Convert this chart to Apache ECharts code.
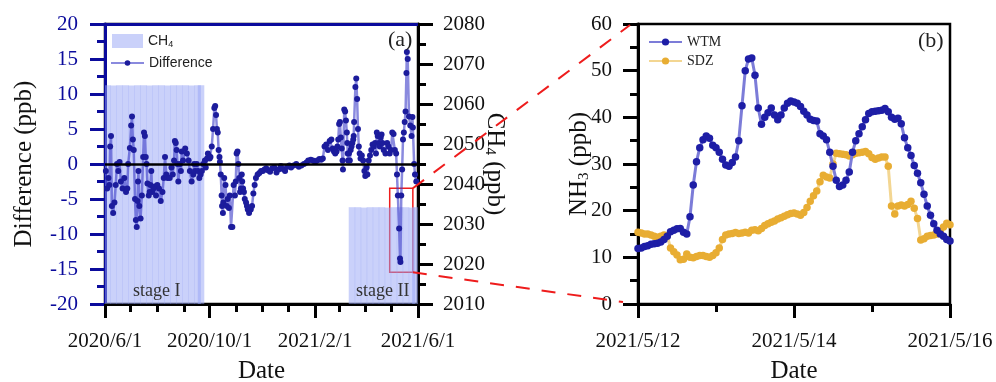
<!DOCTYPE html>
<html><head><meta charset="utf-8">
<script src="https://cdn.jsdelivr.net/npm/echarts@6/dist/echarts.min.js"></script>
<style>html,body{margin:0;padding:0;background:#fff}#c{width:996px;height:382px}</style>
</head><body><div id="c"></div>
<script>
// ===== Data =====
// Panel (a): Difference (ppb), x = days after 2020/6/1
const diffDays = [1,2.5,4,5,6,7,8,9.5,11,12.5,14,15.5,17,18.5,20.5,22.5,24.5,26,27,29,30.5,31.5,32.5,33.5,35,36,37,38,38.5,39,40,41.5,43,44.5,45.5,46.5,47.5,48.5,49.5,51,52,53,54,55,56.5,58,59.5,61,63,65,67,68.5,70,71.5,73,75.5,77.5,79,80.5,81.5,82.5,83.5,84.5,85.5,87.5,88.5,89.5,91,93.5,95.5,97.5,99,101,103,104,105,107,108.5,110,111.5,113,114.5,116.5,117.5,119,120,121,122,123,124.5,126,127.5,128.5,129.5,130.5,131.5,132.5,133.5,134,135,136,136.5,137.5,138,139,140.5,142,143,144.5,145.5,147,148.5,150,151.5,152.5,153.5,154.5,155.5,156.5,157.5,158.5,159.5,160,161,162,163,164.5,165.5,166.5,168,170,171.5,173,174.5,176,178,180,182,184,186,188,190,192.5,195,197.5,200,202.5,205,207.5,210,212.5,215,217,220,223,226,229,232,235,237,240,242.5,245,247.5,250,252,254,256,258,260,262,264,265.5,267,268.5,270,271,272,273,274,275,276,277,277.5,279,280,281,282,282.5,283,283.5,284.5,285.5,286.5,287.5,288.5,289.5,290,290.5,292,293,294,295,296,297,298,299.5,301,302.5,303.5,305,306,307.5,309,310.5,312,313.5,315,316,317,318,319.5,320.5,321.5,322.5,323.5,325,327,329,330.5,332,333.5,335,336.5,338,339.5,340.5,341.5,343,344,344.5,345.5,346.5,347.5,348.5,349.5,350.5,351.5,352,353,354.5,356,357.5,358.5,359,360.5,361.5,363];
const diffValues = [-1,-3.5,-2,-3,2.5,4.0,-6,-7,-5.5,-3,0,-1,0.3,-2.5,-3.5,-2,-4,-3.5,0,2.3,5.5,6.8,3.5,2,-5,-8,-9,-5.3,-2.5,-1,-6,-7.8,-4.5,1,4.5,4,1,0,-2.8,-4.5,-4,-3,-1,-4,-3.5,-3.2,-4.5,-3,-3.5,-5.3,-4,-2,1,-1.5,-2,-2,-0.5,-1.5,0.5,3.3,3,2,0,-2.5,0,-1,1.8,0.5,2.2,1.5,0.5,-1,-2.5,-1.5,0,-1,0,-1,-2,-1.5,-1,0,0.5,-0.5,0.8,1.5,1.2,0.8,1,2.5,5,8,8.3,7,5,4.5,2,1,0.3,-1.5,-4.5,-6,-7,-5.5,-2,-3,-6,-5,-6.3,-4.5,-9,-9,-3,-4.5,-2.5,1.5,1.8,0,-2,-4,-3.5,-1.5,-2.5,-3.5,-4,-5,-5.5,-6,-6.5,-7,-6.5,-6,-4.2,-3,-2,-1.5,-1.3,-1,-1,-0.8,-0.6,-0.9,-1.1,-0.6,-0.5,-1.2,-0.8,-0.3,-0.7,-1,-0.4,-0.2,-0.5,-0.2,0,-0.4,-0.2,0,0.2,0.5,0.6,0.5,0.3,0.5,0.7,0.6,0.8,2.5,2.8,2,3.3,3.5,2.2,1.8,1.5,1.8,2.5,3.5,5.7,6,3.8,2.2,0.5,-0.8,7.8,7.5,6.2,4.5,3,1.5,0.5,1.5,0.5,2,2.5,3,3.5,4,6,11,12.2,9.3,5,2.5,1.5,0.8,1.2,0.5,-1,-1.7,-0.5,-1.5,0.5,1.2,2,2.8,2.5,3,1.5,4.5,4,3,2.5,3.8,4.2,3,2,1.5,3,2.5,1.5,2,4.5,4.3,2,1.5,-1.5,-4.5,-9.2,-13.5,-14,-4.5,-0.8,3.5,4.5,6,7.5,13,16,15,6.8,5.5,4,6.7,5.2,0,-1.5,-2.5];
// Panel (a): CH4 (ppb) bars (weekly)
const ch4Dates = ['2020-06-04','2020-06-11','2020-06-18','2020-06-25','2020-07-02','2020-07-09','2020-07-16','2020-07-23','2020-07-30','2020-08-06','2020-08-13','2020-08-20','2020-08-27','2020-09-03','2020-09-10','2020-09-17','2020-09-21',
  '2021-03-16','2021-03-23','2021-03-30','2021-04-06','2021-04-13','2021-04-20','2021-04-27','2021-05-04','2021-05-11','2021-05-18','2021-05-25','2021-05-29'];
const ch4Values = [2064.7,2064.6,2064.7,2064.7,2064.6,2064.7,2064.7,2064.6,2064.7,2064.7,2064.6,2064.7,2064.7,2064.7,2064.6,2064.7,2064.7,
  2034.2,2034.2,2034.1,2034.2,2034.2,2034.2,2034.1,2034.2,2034.2,2034.2,2034.1,2034.2];
const xLabelDatesA = ['2020-06-01','2020-10-01','2021-02-01','2021-06-01'];
const xMinorDatesA = ['2020-07-01','2020-08-01','2020-09-01','2020-11-01','2020-12-01','2021-01-01','2021-03-01','2021-04-01','2021-05-01'];
const zoomBox = {from:'2021-04-29', to:'2021-05-26', top:-3.47, bottom:-15.47};
// Panel (b): NH3 hourly from 2021/5/12 00:00
const nh3Hours = Array.from({length:97}, (_, i) => i);
const wtmValues = [11.9,12.0,12.3,12.5,12.8,12.9,13.0,13.3,13.8,14.5,15.5,15.8,16.1,16.2,15.4,15.0,18.7,25.5,30.5,33.5,35.2,36.0,35.5,34.0,33.5,32.5,31.0,29.8,29.5,30.3,31.5,35.0,42.5,50.0,52.5,52.7,49.0,42.0,38.5,40.0,41.0,42.0,40.5,39.5,40.5,42.0,43.0,43.5,43.3,43.0,42.3,41.3,40.5,39.6,39.3,39.2,36.5,36.0,35.2,32.5,29.5,26.5,25.2,25.5,26.5,28.3,32.5,35.0,36.5,38.0,39.5,40.8,41.2,41.3,41.4,41.5,41.9,41.2,40.0,39.6,39.8,38.6,35.6,33.5,31.8,29.7,28.0,26.0,23.5,21.0,19.0,17.2,15.8,15.0,14.5,13.8,13.5];
const sdzValues = [15.4,15.2,15.0,15.0,14.8,14.5,14.3,14.5,14.8,14.6,12.0,11.2,10.5,9.5,9.6,10.7,10.0,9.9,10.2,10.4,10.4,10.2,10.0,10.4,11.0,12.0,13.8,14.8,15.0,15.1,15.3,15.1,15.2,15.4,15.2,15.8,15.9,15.7,16.2,16.8,17.2,17.5,17.8,18.2,18.5,18.8,19.1,19.4,19.5,19.3,19.0,19.6,20.7,22.0,23.2,24.2,26.2,27.6,27.2,27.0,30.0,32.3,32.2,32.1,32.0,31.7,32.0,32.3,32.4,32.5,32.7,32.2,31.4,31.0,31.3,31.5,31.5,29.5,21.0,19.3,21.0,21.2,21.0,21.3,22.0,20.5,18.3,13.7,14.0,14.5,14.7,14.8,15.0,15.5,16.5,17.3,17.0];
const xLabelDatesB = ['2021-05-12','2021-05-14','2021-05-16'];
const xMinorDatesB = ['2021-05-13','2021-05-15'];

// ===== Helpers =====
const DAY = 86400000, HOUR = 3600000;
function ts(s){ const p = s.split('-').map(Number); return new Date(p[0], p[1]-1, p[2]).getTime(); }
function fmt(v){ const d = new Date(v); return d.getFullYear() + '/' + (d.getMonth()+1) + '/' + d.getDate(); }
const SERIF = 'Liberation Serif', SANS = 'Liberation Sans';
const BLUE = '#0b0b9c';
const startA = ts('2020-06-01'), endA = ts('2021-06-01');
const startB = ts('2021-05-12'), endB = ts('2021-05-16');
const CH4_MIN = 2010;

const diffData = diffDays.map((d, i) => [startA + d*DAY, diffValues[i]]);
const ch4Data = ch4Dates.map((s, i) => [ts(s), ch4Values[i]]);
const wtmData = nh3Hours.map((h, i) => [startB + h*HOUR, wtmValues[i]]);
const sdzData = nh3Hours.map((h, i) => [startB + h*HOUR, sdzValues[i]]);

const tickLbl = {fontFamily: SERIF, fontSize: 21, color: '#111'};
const nameStyle = {fontFamily: SERIF, fontSize: 25, color: '#111'};
const subRich = {s: {fontFamily: SERIF, fontSize: 15, color: '#111', verticalAlign: 'bottom', padding: [10, 0, 0, 0]}};

function xMain(grid, mn, mx, labels){
  return {
    type: 'value', gridIndex: grid, min: mn, max: mx, position: 'bottom',
    axisLine: {show: true, onZero: false, lineStyle: {color: '#000', width: 3}},
    axisTick: {show: true, customValues: labels.map(ts), length: 14, lineStyle: {color: '#000', width: 3}},
    axisLabel: Object.assign({show: true, customValues: labels.map(ts), formatter: fmt, margin: 27, hideOverlap: false, showMinLabel: true, showMaxLabel: true}, tickLbl),
    splitLine: {show: false},
    name: 'Date', nameLocation: 'middle', nameGap: 55, nameMoveOverlap: false, nameTextStyle: nameStyle
  };
}
function xMinor(grid, mn, mx, ticks){
  return {
    type: 'value', gridIndex: grid, min: mn, max: mx, position: 'bottom',
    axisLine: {show: false, onZero: false},
    axisTick: {show: true, customValues: ticks.map(ts), length: 8, lineStyle: {color: '#000', width: 3}},
    axisLabel: {show: false}, splitLine: {show: false}
  };
}

const chart = echarts.init(document.getElementById('c'), null, {renderer: 'canvas'});
const option = {
  animation: false,
  backgroundColor: '#fff',
  grid: [
    {left: 105, top: 24, width: 313, height: 280, outerBoundsMode: 'none', containLabel: false, show: true, borderColor: '#000', borderWidth: 2.5, backgroundColor: 'transparent'},
    {left: 638, top: 24, width: 312, height: 280, outerBoundsMode: 'none', containLabel: false, show: true, borderColor: '#000', borderWidth: 2.5, backgroundColor: 'transparent'}
  ],
  legend: [
    {
      data: [{name: 'CH4', icon: 'rect'}],
      left: 112, top: 34, padding: 0, itemWidth: 31, itemHeight: 14,
      formatter: () => 'CH{s|4}',
      textStyle: {fontFamily: SANS, fontSize: 14, color: '#222',
        rich: {s: {fontFamily: SANS, fontSize: 9, color: '#222', verticalAlign: 'bottom', padding: [7, 0, 0, 0]}}}
    },
    {
      data: ['Difference'],
      left: 110, top: 56, padding: 0, itemWidth: 33, itemHeight: 7,
      textStyle: {fontFamily: SANS, fontSize: 14, color: '#222'}
    },
    {
      data: ['WTM', 'SDZ'],
      orient: 'vertical', left: 648, top: 35, padding: 0, itemWidth: 33, itemHeight: 9, itemGap: 5,
      textStyle: {fontFamily: SERIF, fontSize: 14, color: '#222'}
    }
  ],
  xAxis: [
    xMain(0, startA, endA, xLabelDatesA),
    xMinor(0, startA, endA, xMinorDatesA),
    { // panel a top border (blue)
      type: 'value', gridIndex: 0, min: startA, max: endA, position: 'top',
      axisLine: {show: true, onZero: false, lineStyle: {color: BLUE, width: 3}},
      axisTick: {show: false}, axisLabel: {show: false}, splitLine: {show: false}
    },
    xMain(1, startB, endB, xLabelDatesB),
    xMinor(1, startB, endB, xMinorDatesB)
  ],
  yAxis: [
    { // 0: Difference
      type: 'value', gridIndex: 0, position: 'left', min: -20, max: 20, interval: 5,
      axisLine: {show: true, onZero: false, lineStyle: {color: BLUE, width: 3}},
      axisTick: {show: true, length: 15, lineStyle: {color: BLUE, width: 3}},
      minorTick: {show: true, splitNumber: 2, length: 8, lineStyle: {color: BLUE, width: 3}},
      axisLabel: {fontFamily: SERIF, fontSize: 21, color: BLUE, margin: 27},
      splitLine: {show: false},
      name: 'Difference (ppb)', nameLocation: 'middle', nameGap: 68, nameMoveOverlap: false, nameTextStyle: nameStyle
    },
    { // 1: CH4
      type: 'value', gridIndex: 0, position: 'right', min: CH4_MIN, max: 2080, interval: 10,
      axisLine: {show: true, onZero: false, lineStyle: {color: '#000', width: 3}},
      axisTick: {show: true, length: 15, lineStyle: {color: '#000', width: 3}},
      minorTick: {show: true, splitNumber: 2, length: 8, lineStyle: {color: '#000', width: 3}},
      axisLabel: Object.assign({margin: 25, formatter: v => String(v)}, tickLbl),
      splitLine: {show: false},
      name: 'CH{s|4} (ppb)', nameLocation: 'middle', nameGap: 64, nameRotate: -90, nameMoveOverlap: false,
      nameTextStyle: Object.assign({rich: subRich}, nameStyle)
    },
    { // 2: NH3
      type: 'value', gridIndex: 1, position: 'left', min: 0, max: 60, interval: 10,
      axisLine: {show: true, onZero: false, lineStyle: {color: '#000', width: 3}},
      axisTick: {show: true, length: 15, lineStyle: {color: '#000', width: 3}},
      minorTick: {show: true, splitNumber: 2, length: 8, lineStyle: {color: '#000', width: 3}},
      axisLabel: Object.assign({margin: 26}, tickLbl),
      splitLine: {show: false},
      name: 'NH{s|3} (ppb)', nameLocation: 'middle', nameGap: 46, nameMoveOverlap: false,
      nameTextStyle: Object.assign({rich: subRich}, nameStyle)
    }
  ],
  series: [
    {
      name: 'CH4', type: 'custom', xAxisIndex: 0, yAxisIndex: 1, data: ch4Data,
      encode: {x: 0, y: 1}, clip: true, z: 1, silent: true,
      itemStyle: {color: 'rgba(150,163,245,0.5)'},
      renderItem: (params, api) => {
        const x = api.value(0), v = api.value(1);
        const top = api.coord([x, v]);
        const bot = api.coord([x, CH4_MIN]);
        const w = api.size([7 * DAY, 0])[0] + 0.5;
        return {
          type: 'rect',
          shape: {x: top[0] - w / 2, y: top[1], width: w, height: bot[1] - top[1]},
          style: {fill: api.visual('color')}
        };
      }
    },
    {
      name: 'Difference', type: 'line', xAxisIndex: 0, yAxisIndex: 0, data: diffData,
      symbol: 'circle', symbolSize: 6, showSymbol: true,
      itemStyle: {color: '#1c1c9c'},
      lineStyle: {color: 'rgba(60,60,200,0.6)', width: 2.5},
      z: 4,
      markLine: {
        silent: true, symbol: 'none', label: {show: false},
        lineStyle: {color: '#000', width: 2.5, type: 'solid'},
        data: [{yAxis: 0}]
      },
      markArea: {
        silent: true,
        itemStyle: {color: 'rgba(0,0,0,0)', borderColor: '#ee1c1c', borderWidth: 1.5},
        data: [[{xAxis: ts(zoomBox.from), yAxis: zoomBox.top}, {xAxis: ts(zoomBox.to), yAxis: zoomBox.bottom}]]
      }
    },
    {
      name: 'WTM', type: 'line', xAxisIndex: 3, yAxisIndex: 2, data: wtmData,
      symbol: 'circle', symbolSize: 7.5, showSymbol: true,
      itemStyle: {color: '#1e1ea6'},
      lineStyle: {color: '#7c7cd8', width: 3}, z: 4
    },
    {
      name: 'SDZ', type: 'line', xAxisIndex: 3, yAxisIndex: 2, data: sdzData,
      symbol: 'circle', symbolSize: 7.5, showSymbol: true,
      itemStyle: {color: '#e8ad33'},
      lineStyle: {color: '#f3d692', width: 3}, z: 3
    }
  ]
};
chart.setOption(option);

// Annotations: labels and zoom connector lines
const pTR = chart.convertToPixel({xAxisIndex: 0, yAxisIndex: 0}, [ts(zoomBox.to), zoomBox.top]);
const pBR = chart.convertToPixel({xAxisIndex: 0, yAxisIndex: 0}, [ts(zoomBox.to), zoomBox.bottom]);
const qT = chart.convertToPixel({xAxisIndex: 3, yAxisIndex: 2}, [startB, 60]);
const qB = chart.convertToPixel({xAxisIndex: 3, yAxisIndex: 2}, [startB, 0]);
const dash = {stroke: '#ee1c1c', lineWidth: 2, lineDash: [14, 12]};
chart.setOption({
  graphic: [
    {type: 'line', z: 100, shape: {x1: pTR[0], y1: pTR[1], x2: qT[0] - 8, y2: qT[1] + 1}, style: dash, silent: true},
    {type: 'line', z: 100, shape: {x1: pBR[0], y1: pBR[1], x2: qB[0] - 15, y2: qB[1] - 2}, style: dash, silent: true},
    {type: 'text', z: 100, left: 133, top: 282, style: {text: 'stage I', font: '18px "Liberation Serif"', fill: '#333'}},
    {type: 'text', z: 100, left: 356, top: 282, style: {text: 'stage II', font: '18px "Liberation Serif"', fill: '#333'}},
    {type: 'text', z: 100, left: 388, top: 29, style: {text: '(a)', font: '22px "Liberation Serif"', fill: '#222'}},
    {type: 'text', z: 100, left: 918, top: 30, style: {text: '(b)', font: '22px "Liberation Serif"', fill: '#222'}}
  ]
});
</script>
</body></html>
